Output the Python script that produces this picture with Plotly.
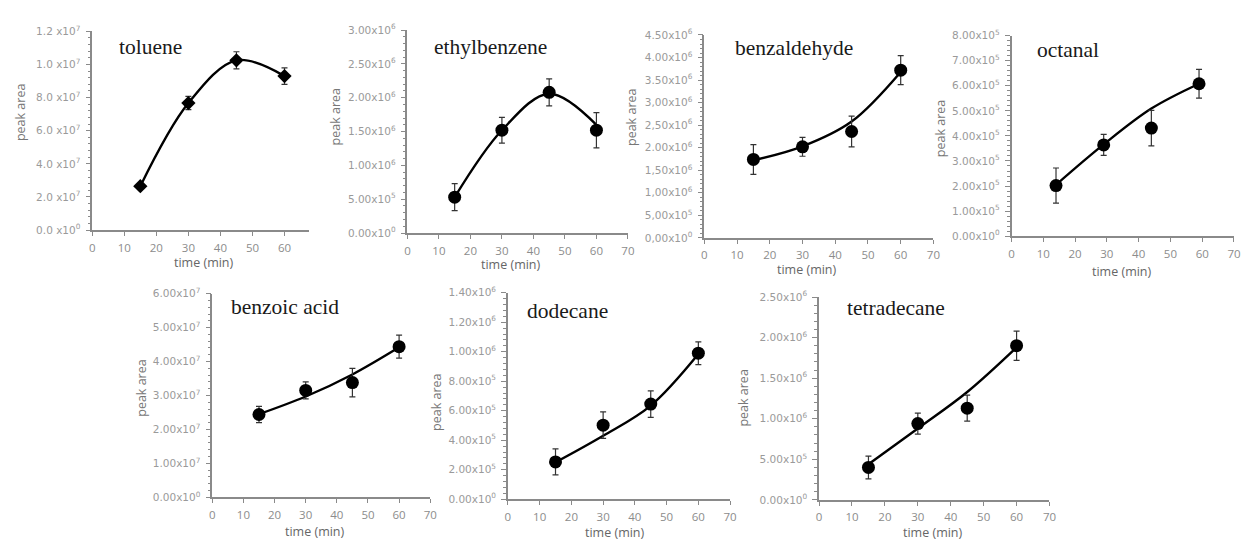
import plotly.graph_objects as go

# ---------------- data ----------------
times = [15, 30, 45, 60]
octanal_times = [14, 29, 44, 59]

toluene = [2.65e6, 7.67e6, 10.25e6, 9.3e6]
toluene_err = [0.15e6, 0.4e6, 0.52e6, 0.5e6]
toluene_fit = [2.65e6, 7.67e6, 10.25e6, 9.3e6]

ethylbenzene = [0.53e6, 1.52e6, 2.08e6, 1.52e6]
ethylbenzene_err = [0.2e6, 0.19e6, 0.2e6, 0.26e6]
ethylbenzene_fit = [0.53e6, 1.52e6, 2.06e6, 1.6e6]

benzaldehyde = [1.74e6, 2.02e6, 2.36e6, 3.72e6]
benzaldehyde_err = [0.33e6, 0.21e6, 0.34e6, 0.32e6]
benzaldehyde_fit = [1.72e6, 2.03e6, 2.58e6, 3.68e6]

octanal = [2.02e5, 3.64e5, 4.31e5, 6.08e5]
octanal_err = [0.7e5, 0.42e5, 0.71e5, 0.57e5]
octanal_fit = [2.05e5, 3.66e5, 5.09e5, 6.08e5]

benzoic_acid = [2.44e7, 3.15e7, 3.38e7, 4.44e7]
benzoic_acid_err = [0.24e7, 0.25e7, 0.42e7, 0.34e7]
benzoic_acid_fit = [2.45e7, 2.97e7, 3.62e7, 4.42e7]

dodecane = [2.53e5, 5.02e5, 6.45e5, 9.9e5]
dodecane_err = [0.88e5, 0.9e5, 0.9e5, 0.77e5]
dodecane_fit = [2.5e5, 4.3e5, 6.35e5, 9.85e5]

tetradecane = [4.0e5, 9.4e5, 11.3e5, 19.0e5]
tetradecane_err = [1.4e5, 1.3e5, 1.6e5, 1.8e5]
tetradecane_fit = [4.4e5, 8.8e5, 13.3e5, 18.8e5]

names = ["toluene", "ethylbenzene", "benzaldehyde", "octanal",
         "benzoic acid", "dodecane", "tetradecane"]

x_ticks = [0, 10, 20, 30, 40, 50, 60, 70]
x_ticks_toluene = [0, 10, 20, 30, 40, 50, 60]

# y tick values and labels (mantissa, exponent) as printed in the figure
toluene_yticks = [0, 2e6, 4e6, 6e6, 8e6, 10e6, 12e6]
toluene_ylabels = [("0.0 ", 0), ("2.0 ", 7), ("4.0 ", 7), ("6.0 ", 7), ("8.0 ", 7), ("1.0 ", 7), ("1.2 ", 7)]
ethylbenzene_yticks = [0, 0.5e6, 1.0e6, 1.5e6, 2.0e6, 2.5e6, 3.0e6]
ethylbenzene_ylabels = [("0.00", 0), ("5.00", 5), ("1.00", 6), ("1.50", 6), ("2.00", 6), ("2.50", 6), ("3.00", 6)]
benzaldehyde_yticks = [0, 0.5e6, 1.0e6, 1.5e6, 2.0e6, 2.5e6, 3.0e6, 3.5e6, 4.0e6, 4.5e6]
benzaldehyde_ylabels = [("0,00", 0), ("5,00", 5), ("1,00", 6), ("1,50", 6), ("2.00", 6), ("2,50", 6),
                        ("3,00", 6), ("3.50", 6), ("4.00", 6), ("4.50", 6)]
octanal_yticks = [0, 1e5, 2e5, 3e5, 4e5, 5e5, 6e5, 7e5, 8e5]
octanal_ylabels = [("0.00", 0), ("1.00", 5), ("2.00", 5), ("3.00", 5), ("4.00", 5), ("5.00", 5),
                   ("6.00", 5), ("7.00", 5), ("8.00", 5)]
benzoic_acid_yticks = [0, 1e7, 2e7, 3e7, 4e7, 5e7, 6e7]
benzoic_acid_ylabels = [("0.00", 0), ("1.00", 7), ("2.00", 7), ("3.00", 7), ("4.00", 7), ("5.00", 7), ("6.00", 7)]
dodecane_yticks = [0, 2e5, 4e5, 6e5, 8e5, 10e5, 12e5, 14e5]
dodecane_ylabels = [("0.00", 0), ("2.00", 5), ("4.00", 5), ("6.00", 5), ("8.00", 5), ("1.00", 6),
                    ("1.20", 6), ("1.40", 6)]
tetradecane_yticks = [0, 5e5, 10e5, 15e5, 20e5, 25e5]
tetradecane_ylabels = [("0.00", 0), ("5.00", 5), ("1.00", 6), ("1.50", 6), ("2.00", 6), ("2.50", 6)]

# ---------------- layout helpers ----------------
W, H = 1241, 540

def px_x(v):
    return v / W

def px_y(v):
    return 1 - v / H

panels = [
    dict(t=times, y=toluene, e=toluene_err, f=toluene_fit, yt=toluene_yticks, yl=toluene_ylabels,
         box=(90, 308, 24, 228), xmax=67.5, xt=x_ticks_toluene, minor=0.4e6, sym="diamond", ms=11,
         title=(115, 40), ylab=(17, 107), xlab=(203, 261)),
    dict(t=times, y=ethylbenzene, e=ethylbenzene_err, f=ethylbenzene_fit, yt=ethylbenzene_yticks,
         yl=ethylbenzene_ylabels, box=(407.7, 630, 22.7, 231), xmax=70, xt=x_ticks, minor=0.1e6,
         sym="circle", ms=13, title=(432, 40), ylab=(335, 112), xlab=(512, 263)),
    dict(t=times, y=benzaldehyde, e=benzaldehyde_err, f=benzaldehyde_fit, yt=benzaldehyde_yticks,
         yl=benzaldehyde_ylabels, box=(707, 938, 27.7, 236), xmax=70, xt=x_ticks, minor=0.1e6,
         sym="circle", ms=13, title=(736, 41), ylab=(633, 112), xlab=(811, 268)),
    dict(t=octanal_times, y=octanal, e=octanal_err, f=octanal_fit, yt=octanal_yticks,
         yl=octanal_ylabels, box=(1016.7, 1241, 28.3, 234.3), xmax=70, xt=x_ticks, minor=0.2e5,
         sym="circle", ms=13, title=(1040, 43), ylab=(945, 124), xlab=(1128, 271)),
    dict(t=times, y=benzoic_acid, e=benzoic_acid_err, f=benzoic_acid_fit, yt=benzoic_acid_yticks,
         yl=benzoic_acid_ylabels, box=(211, 430.7, 293.3, 502.3), xmax=70, xt=x_ticks, minor=0.2e7,
         sym="circle", ms=13, title=(228, 307), ylab=(140, 390), xlab=(315, 537)),
    dict(t=times, y=dodecane, e=dodecane_err, f=dodecane_fit, yt=dodecane_yticks,
         yl=dodecane_ylabels, box=(509, 733, 292.3, 504.3), xmax=70, xt=x_ticks, minor=0.4e5,
         sym="circle", ms=13, title=(526, 311), ylab=(437, 405), xlab=(617, 538)),
    dict(t=times, y=tetradecane, e=tetradecane_err, f=tetradecane_fit, yt=tetradecane_yticks,
         yl=tetradecane_ylabels, box=(822.7, 1055, 296.7, 505), xmax=70, xt=x_ticks, minor=1e5,
         sym="circle", ms=13, title=(849, 308), ylab=(747, 400), xlab=(938, 538)),
]

fig = go.Figure()
layout = dict(
    width=W, height=H,
    margin=dict(l=0, r=0, t=0, b=0),
    paper_bgcolor="white", plot_bgcolor="white",
    showlegend=False,
    annotations=[],
)

tick_font = dict(family="DejaVu Sans, sans-serif", size=10.5, color="#9a9a9a")
axis_col = "#8a8a8a"

for i, p in enumerate(panels, start=1):
    xa = "x" if i == 1 else f"x{i}"
    ya = "y" if i == 1 else f"y{i}"
    xl, xr, yt_, yb = p["box"]
    fig.add_trace(go.Scatter(
        x=p["t"], y=p["f"], mode="lines", xaxis=xa, yaxis=ya,
        line=dict(color="black", width=2.4, shape="spline", smoothing=1.0),
        hoverinfo="skip"))
    fig.add_trace(go.Scatter(
        x=p["t"], y=p["y"], mode="markers", xaxis=xa, yaxis=ya,
        marker=dict(symbol=p["sym"], size=p["ms"], color="black"),
        error_y=dict(type="data", array=p["e"], visible=True, color="#333333",
                     thickness=1.2, width=3)))
    ticktext = [f"{m}x10<sup>{ex}</sup>" for m, ex in p["yl"]]
    layout["xaxis" if i == 1 else f"xaxis{i}"] = dict(
        domain=[px_x(xl), px_x(xr)], range=[0, p["xmax"]], anchor=ya,
        tickvals=p["xt"], ticks="outside", ticklen=4, tickcolor=axis_col,
        ticklabelstandoff=2,
        showline=True, linecolor=axis_col, linewidth=1.5, showgrid=False, zeroline=False,
        tickfont=dict(family="Open Sans, DejaVu Sans, sans-serif", size=11.5, color="#8c8c8c"),
        fixedrange=True)
    layout["yaxis" if i == 1 else f"yaxis{i}"] = dict(
        domain=[px_y(yb), px_y(yt_)], range=[0, p["yt"][-1]], anchor=xa,
        tickvals=p["yt"], ticktext=ticktext, ticks="outside", ticklen=5, tickcolor=axis_col,
        ticklabelstandoff=3,
        minor=dict(ticks="outside", ticklen=3, dtick=p["minor"], tick0=0, tickcolor=axis_col,
                   showgrid=False),
        showline=True, linecolor=axis_col, linewidth=1.5, showgrid=False, zeroline=False,
        tickfont=tick_font, fixedrange=True)
    tx, ty = p["title"]
    layout["annotations"].append(dict(
        text=names[i - 1], x=px_x(tx), y=px_y(ty), xref="paper", yref="paper",
        xanchor="left", yanchor="middle", showarrow=False,
        font=dict(family="Liberation Serif, Times New Roman, serif", size=21.5, color="#1a1a1a")))
    lx, ly = p["ylab"]
    layout["annotations"].append(dict(
        text="peak area", x=px_x(lx), y=px_y(ly), xref="paper", yref="paper",
        xanchor="center", yanchor="middle", showarrow=False, textangle=-90,
        font=dict(family="Open Sans, DejaVu Sans, sans-serif", size=12.5, color="#777777")))
    bx, by = p["xlab"]
    layout["annotations"].append(dict(
        text="time (min)", x=px_x(bx), y=px_y(by), xref="paper", yref="paper",
        xanchor="center", yanchor="middle", showarrow=False,
        font=dict(family="Open Sans, DejaVu Sans, sans-serif", size=12.5, color="#666666")))

fig.update_layout(**layout)
fig.write_html("out.html")
